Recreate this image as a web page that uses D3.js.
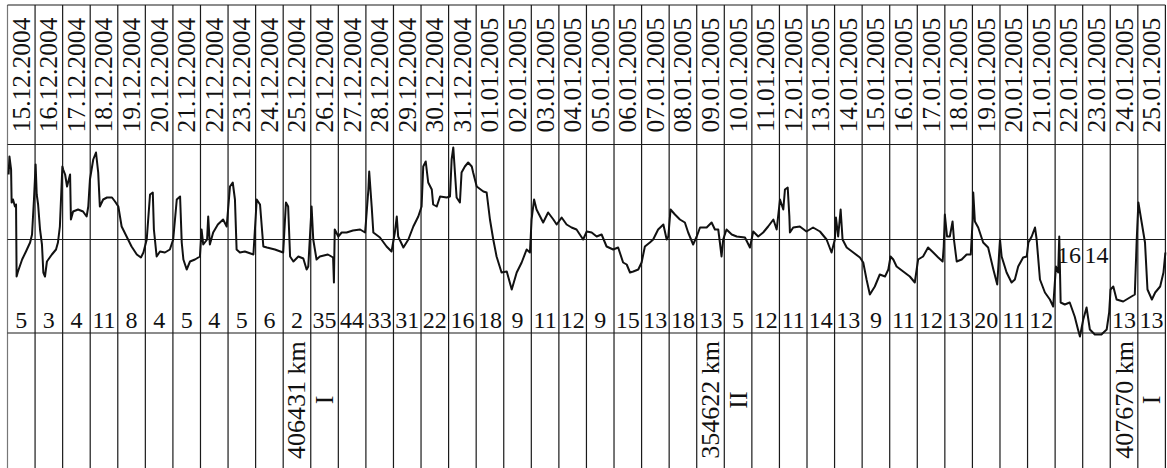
<!DOCTYPE html>
<html>
<head>
<meta charset="utf-8">
<script src="https://cdn.jsdelivr.net/npm/d3@7"></script>
<style>
html,body{margin:0;padding:0;background:#fff;}
svg{display:block;}
text{font-family:"Liberation Serif","Times New Roman",serif;fill:#111;}
</style>
</head>
<body>
<svg id="chart" width="1167" height="468"></svg>
<script>
// ---- data ----
const dates = ["15.12.2004","16.12.2004","17.12.2004","18.12.2004","19.12.2004","20.12.2004","21.12.2004",
  "22.12.2004","23.12.2004","24.12.2004","25.12.2004","26.12.2004","27.12.2004","28.12.2004","29.12.2004",
  "30.12.2004","31.12.2004","01.01.2005","02.01.2005","03.01.2005","04.01.2005","05.01.2005","06.01.2005",
  "07.01.2005","08.01.2005","09.01.2005","10.01.2005","11.01.2005","12.01.2005","13.01.2005","14.01.2005",
  "15.01.2005","16.01.2005","17.01.2005","18.01.2005","19.01.2005","20.01.2005","21.01.2005","22.01.2005",
  "23.01.2005","24.01.2005","25.01.2005"];

const counts = [5,3,4,11,8,4,5,4,5,6,2,35,44,33,31,22,16,18,9,11,12,9,15,13,18,13,5,12,11,14,13,9,11,12,13,20,11,12,16,14,13,13];
const raisedCounts = [38,39]; // column indices whose number sits inside the trace area

const distanceNotes = [
  {col:10, dist:"406431 km", phase:"I"},
  {col:25, dist:"354622 km", phase:"II"},
  {col:40, dist:"407670 km", phase:"I"}
];

// trace: [day offset from 15.12.2004 00h, deviation (relative units)]
const trace = [[0.04,65],[0.07,83],[0.13,70],[0.15,37],[0.20,40],[0.27,33],[0.31,35],[0.33,-37],[0.38,-32],[0.53,-20],[0.67,-12],[0.82,-3],[0.89,5],[0.92,20],[0.96,40],[1.02,75],[1.06,45],[1.11,35],[1.18,10],[1.25,-5],[1.30,-33],[1.36,-37],[1.43,-22],[1.61,-15],[1.76,-10],[1.83,-3],[1.90,13],[1.99,73],[2.02,70],[2.09,65],[2.16,53],[2.27,65],[2.30,20],[2.38,28],[2.56,30],[2.74,28],[2.87,23],[2.93,33],[2.99,60],[3.11,80],[3.21,87],[3.29,67],[3.35,33],[3.47,40],[3.61,42],[3.79,42],[3.90,38],[4.02,33],[4.14,13],[4.32,3],[4.50,-7],[4.69,-15],[4.84,-18],[4.93,-13],[5.05,0],[5.17,45],[5.27,47],[5.31,10],[5.41,-17],[5.53,-12],[5.71,-13],[5.89,-10],[6.01,0],[6.14,40],[6.26,43],[6.32,-3],[6.38,-20],[6.50,-30],[6.62,-22],[6.80,-20],[6.98,-17],[7.04,10],[7.10,-5],[7.24,0],[7.28,23],[7.34,-5],[7.46,7],[7.63,15],[7.82,20],[7.95,13],[8.07,53],[8.17,57],[8.25,40],[8.31,-10],[8.43,-13],[8.61,-12],[8.92,-15],[9.04,40],[9.16,35],[9.28,-7],[9.41,-8],[9.70,-10],[10.00,-13],[10.10,37],[10.18,33],[10.25,-17],[10.37,-22],[10.55,-17],[10.73,-19],[10.85,-30],[10.91,-27],[11.03,33],[11.09,0],[11.21,-20],[11.33,-17],[11.62,-15],[11.81,-18],[11.84,-43],[11.87,10],[12.00,3],[12.12,7],[12.30,7],[12.53,9],[12.79,10],[12.97,7],[13.00,17],[13.09,50],[13.12,68],[13.21,33],[13.27,7],[13.51,2],[13.75,-7],[13.93,-12],[14.05,7],[14.12,23],[14.17,3],[14.36,-8],[14.54,0],[14.72,13],[14.90,23],[15.02,33],[15.08,73],[15.17,78],[15.26,57],[15.39,50],[15.44,35],[15.57,33],[15.69,43],[15.93,42],[16.05,43],[16.11,80],[16.17,92],[16.23,67],[16.29,42],[16.41,37],[16.47,67],[16.59,73],[16.71,77],[16.84,73],[16.89,67],[17.02,53],[17.26,48],[17.38,47],[17.50,20],[17.62,0],[17.74,-17],[17.92,-33],[18.11,-32],[18.29,-50],[18.47,-33],[18.65,-23],[18.83,-10],[18.95,-13],[19.01,20],[19.10,40],[19.19,30],[19.43,17],[19.61,27],[19.80,20],[19.92,15],[20.10,22],[20.28,15],[20.46,12],[20.64,10],[20.76,5],[20.88,0],[21.01,8],[21.19,7],[21.37,3],[21.55,5],[21.73,-7],[21.97,-10],[22.15,-8],[22.33,-23],[22.46,-25],[22.58,-33],[22.70,-32],[22.88,-30],[23.00,-23],[23.12,-7],[23.30,-3],[23.42,0],[23.60,10],[23.79,15],[23.91,0],[23.97,3],[24.05,30],[24.21,25],[24.39,20],[24.57,17],[24.69,7],[24.87,-5],[25.00,3],[25.12,12],[25.36,12],[25.54,17],[25.66,10],[25.78,10],[25.84,-3],[25.90,-17],[25.96,0],[26.08,10],[26.27,5],[26.45,3],[26.75,2],[26.93,-8],[27.05,8],[27.23,3],[27.41,7],[27.59,13],[27.78,20],[27.90,10],[28.02,40],[28.14,30],[28.20,50],[28.30,52],[28.36,23],[28.38,7],[28.50,12],[28.74,13],[28.98,8],[29.22,12],[29.47,8],[29.71,0],[29.89,-13],[30.01,0],[30.05,22],[30.13,3],[30.22,30],[30.29,0],[30.44,-8],[30.68,-13],[30.92,-18],[31.04,-23],[31.16,-40],[31.28,-55],[31.46,-47],[31.64,-35],[31.83,-37],[31.95,-30],[32.03,-17],[32.13,-20],[32.25,-27],[32.49,-32],[32.73,-37],[32.91,-43],[33.03,-20],[33.21,-17],[33.39,-8],[33.58,-13],[33.76,-18],[33.92,-22],[33.96,-7],[34.00,25],[34.08,3],[34.18,3],[34.28,18],[34.33,0],[34.43,-22],[34.61,-20],[34.79,-15],[34.94,-15],[35.01,20],[35.03,47],[35.09,18],[35.21,12],[35.39,-3],[35.57,-8],[35.76,-30],[35.90,-45],[36.00,0],[36.06,-17],[36.24,-33],[36.42,-43],[36.54,-40],[36.66,-27],[36.84,-18],[36.97,-17],[37.03,-3],[37.15,3],[37.27,12],[37.33,0],[37.45,-40],[37.63,-53],[37.81,-60],[37.93,-67],[38.03,-27],[38.11,-33],[38.15,3],[38.20,-63],[38.35,-65],[38.53,-63],[38.71,-77],[38.83,-90],[38.90,-97],[39.02,-80],[39.14,-68],[39.26,-90],[39.44,-95],[39.68,-95],[39.87,-90],[39.96,-73],[40.01,-50],[40.11,-47],[40.23,-60],[40.47,-62],[40.71,-58],[40.89,-55],[40.96,0],[41.02,37],[41.14,17],[41.26,-3],[41.35,-50],[41.51,-60],[41.63,-53],[41.81,-47],[41.93,-33],[42.00,-13]];

// ---- layout ----
const svg = d3.select("#chart");
const left = 7.5, right = 1165.4;
const yTop = 5, yDateBottom = 144.5, yNumLine = 333, yBottom = 468;

const xBand = d3.scaleBand().domain(dates.map((d,i)=>i)).range([left,right]).paddingInner(0).paddingOuter(0);
const xTime = d3.scaleLinear().domain([0, dates.length]).range([left,right]);
const y = d3.scaleLinear().domain([-100,100]).range([339.5,139.5]);
const cx = i => xBand(i) + xBand.bandwidth()/2;

svg.append("rect").attr("width",1167).attr("height",468).attr("fill","#fff");

const grid = svg.append("g").attr("stroke","#1a1a1a").attr("stroke-width",1.2).attr("fill","none");
grid.selectAll("line.v").data(d3.range(dates.length+1)).join("line")
  .attr("class","v")
  .attr("x1",i=>xTime(i)).attr("x2",i=>xTime(i))
  .attr("y1",yTop).attr("y2",yBottom)
  .attr("stroke", i => i===0 ? "#777" : "#1a1a1a");
grid.selectAll("line.h").data([yTop, yDateBottom, y(0), yNumLine]).join("line")
  .attr("class","h")
  .attr("x1",left).attr("x2",right)
  .attr("y1",d=>d).attr("y2",d=>d);

// date labels (rotated)
svg.append("g").selectAll("text").data(dates).join("text")
  .attr("x",(d,i)=>cx(i)).attr("y",75)
  .attr("transform",(d,i)=>`rotate(-90,${cx(i)},75)`)
  .attr("text-anchor","middle")
  .attr("dominant-baseline","central")
  .attr("font-size",25.5)
  .text(d=>d);

// trace
const line = d3.line().x(d=>xTime(d[0])).y(d=>y(d[1]));
svg.append("path").datum(trace)
  .attr("d",line).attr("fill","none")
  .attr("stroke","#111").attr("stroke-width",2).attr("stroke-linejoin","round");

// count numbers
svg.append("g").selectAll("text").data(counts).join("text")
  .attr("x",(d,i)=>cx(i))
  .attr("y",(d,i)=> raisedCounts.includes(i) ? 263 : 328)
  .attr("text-anchor","middle")
  .attr("font-size",24)
  .text(d=>d);

// distance / phase notes (two-line rotated text)
const notes = svg.append("g");
distanceNotes.forEach(n=>{
  const c1 = cx(n.col), c2 = cx(n.col+1), yc = 400;
  notes.append("text").attr("x",c1).attr("y",yc)
    .attr("transform",`rotate(-90,${c1},${yc})`)
    .attr("text-anchor","middle").attr("dominant-baseline","central")
    .attr("font-size",26).text(n.dist);
  notes.append("text").attr("x",c2).attr("y",yc)
    .attr("transform",`rotate(-90,${c2},${yc})`)
    .attr("text-anchor","middle").attr("dominant-baseline","central")
    .attr("font-size",26).text(n.phase);
});
</script>
</body>
</html>
